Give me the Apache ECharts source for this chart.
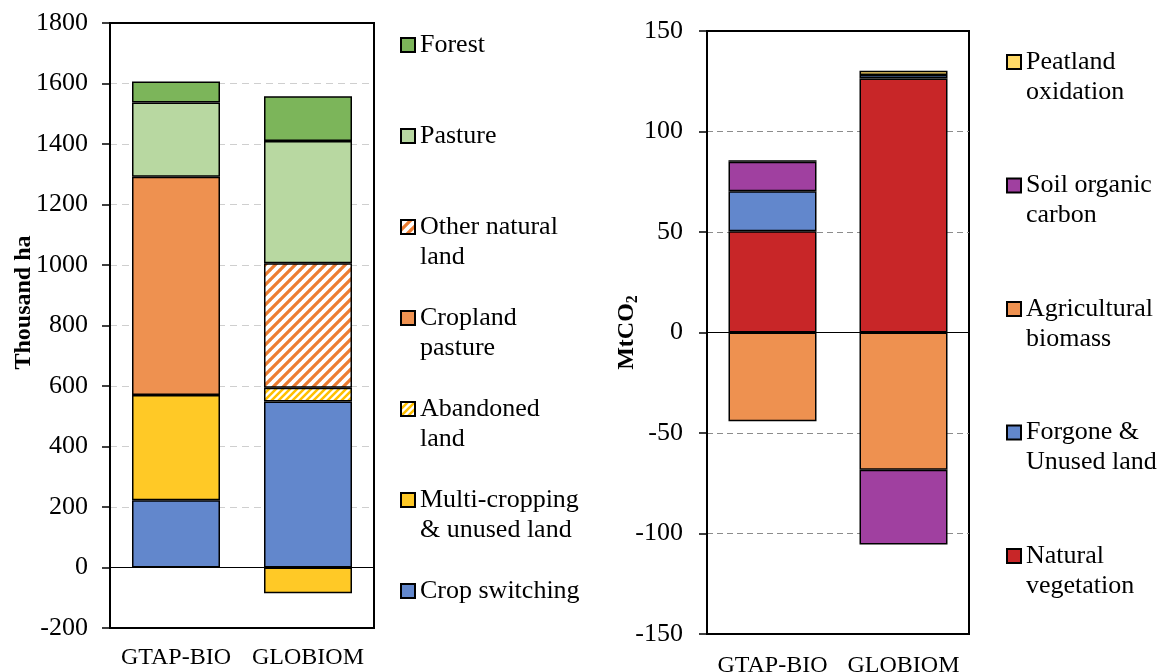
<!DOCTYPE html>
<html>
<head>
<meta charset="utf-8">
<script src="https://cdn.jsdelivr.net/npm/echarts@6/dist/echarts.min.js"></script>
<style>
  html, body { margin: 0; padding: 0; background: #fff; }
  #chart { width: 1160px; height: 672px; }
</style>
</head>
<body>
<div id="chart"></div>
<script>
// Models compared
const models = ['GTAP-BIO', 'GLOBIOM'];

// Land use change by source (thousand ha)
const cropSwitching    = [222, 549];
const multiCropping    = [348, -85];
const abandonedLand    = ['-', 45];
const croplandPasture  = [722, '-'];
const otherNaturalLand = ['-', 412];
const pasture          = [245, 404];
const forest           = [70, 148];

// Land use change emissions by source (MtCO2)
const naturalVegetation   = [50.4, 126.4];
const forgoneUnusedLand   = [19.9, 1.7];
const agriculturalBiomass = [-44.1, -68.3];
const soilOrganicCarbon   = [14.6, -37.2];
const peatlandOxidation   = [0.8, 2.1];

// Axis ranges
const landAxis = { min: -200, max: 1800, interval: 200 };
const co2Axis  = { min: -150, max: 150, interval: 50 };

// Legend labels (line breaks as shown)
const landLegend = [
  ['Forest', ['Forest']],
  ['Pasture', ['Pasture']],
  ['Other natural land', ['Other natural', 'land']],
  ['Cropland pasture', ['Cropland', 'pasture']],
  ['Abandoned land', ['Abandoned', 'land']],
  ['Multi-cropping & unused land', ['Multi-cropping', '& unused land']],
  ['Crop switching', ['Crop switching']]
];
const co2Legend = [
  ['Peatland oxidation', ['Peatland', 'oxidation']],
  ['Soil organic carbon', ['Soil organic', 'carbon']],
  ['Agricultural biomass', ['Agricultural', 'biomass']],
  ['Forgone & Unused land', ['Forgone &', 'Unused land']],
  ['Natural vegetation', ['Natural', 'vegetation']]
];

const FONT = 'Liberation Serif';
const C = {
  forest: '#7cb55a',
  pasture: '#b8d8a1',
  orange: '#ee9150',
  yellow: '#ffc926',
  blue: '#6287cc',
  red: '#c82628',
  purple: '#a040a0',
  peat: '#ffd966'
};

// Diagonal "/" hatch on white
function hatch(color, size, lw) {
  const c = document.createElement('canvas');
  c.width = size; c.height = size;
  const g = c.getContext('2d');
  g.fillStyle = '#fff';
  g.fillRect(0, 0, size, size);
  g.strokeStyle = color;
  g.lineWidth = lw;
  g.beginPath();
  g.moveTo(-1, size + 1); g.lineTo(size + 1, -1);
  g.moveTo(-1, 1); g.lineTo(1, -1);
  g.moveTo(size - 1, size + 1); g.lineTo(size + 1, size - 1);
  g.stroke();
  return { image: c, repeat: 'repeat' };
}

function bar(name, data, fill, idx, stack) {
  return {
    type: 'bar', name, data, stack,
    xAxisIndex: idx, yAxisIndex: idx,
    barWidth: 88,
    itemStyle: { color: fill, borderColor: '#000', borderWidth: 1.5 },
    emphasis: { disabled: true },
    animation: false
  };
}

const zeroLine = {
  silent: true, symbol: 'none', label: { show: false },
  lineStyle: { color: '#000', type: 'solid', width: 1.2 },
  data: [{ yAxis: 0 }]
};

// Each entry is set as three lines (blank above, label below) so the key
// square lines up with the first line of the label.
function legend(items, left, top, gap) {
  const map = Object.fromEntries(items.map(([n, lines]) => [n, [' ', lines[0], lines[1] || ' '].join('\n')]));
  return {
    orient: 'vertical', left, top, padding: 0,
    itemWidth: 14, itemHeight: 14, itemGap: gap,
    icon: 'rect', selectedMode: false,
    data: items.map(d => d[0]),
    formatter: n => map[n],
    textStyle: { fontFamily: FONT, fontSize: 26, lineHeight: 30, color: '#000' }
  };
}

function yAxis(idx, range, labelMargin, name, nameGap, nameStyle, grid) {
  return {
    type: 'value', gridIndex: idx, ...range,
    name, nameLocation: 'middle', nameRotate: 90, nameGap,
    nameMoveOverlap: false,
    nameTextStyle: nameStyle,
    axisLine: { show: true, lineStyle: { color: '#000', width: 2 } },
    axisTick: { show: true, length: 8, lineStyle: { color: '#000', width: 1.5 } },
    axisLabel: { fontFamily: FONT, fontSize: 26, color: '#000', margin: labelMargin, formatter: v => String(v) },
    splitLine: {
      show: true, showMinLine: false, showMaxLine: false,
      lineStyle: { color: grid.color, type: grid.dash, width: 1 }
    }
  };
}

function xAxis(idx, margin) {
  return {
    type: 'category', gridIndex: idx, data: models,
    axisLine: { show: true, onZero: false, lineStyle: { color: '#000', width: 2 } },
    axisTick: { show: false },
    axisLabel: { fontFamily: FONT, fontSize: 24, color: '#000', margin, interval: 0 },
    splitLine: { show: false }
  };
}

const orangeHatch = hatch('#ed7d31', 10, 3.2);
const yellowHatch = hatch('#ffc000', 7, 2.5);

const landSeries = [
  bar('Crop switching', cropSwitching, C.blue, 0, 'land'),
  bar('Multi-cropping & unused land', multiCropping, C.yellow, 0, 'land'),
  bar('Abandoned land', abandonedLand, yellowHatch, 0, 'land'),
  bar('Cropland pasture', croplandPasture, C.orange, 0, 'land'),
  bar('Other natural land', otherNaturalLand, orangeHatch, 0, 'land'),
  bar('Pasture', pasture, C.pasture, 0, 'land'),
  bar('Forest', forest, C.forest, 0, 'land')
];
landSeries[landSeries.length - 1].markLine = zeroLine;

const co2Series = [
  bar('Natural vegetation', naturalVegetation, C.red, 1, 'co2'),
  bar('Forgone & Unused land', forgoneUnusedLand, C.blue, 1, 'co2'),
  bar('Agricultural biomass', agriculturalBiomass, C.orange, 1, 'co2'),
  bar('Soil organic carbon', soilOrganicCarbon, C.purple, 1, 'co2'),
  bar('Peatland oxidation', peatlandOxidation, C.peat, 1, 'co2')
];
co2Series[co2Series.length - 1].markLine = zeroLine;

const gridBase = { show: true, borderColor: '#000', borderWidth: 2, containLabel: false, outerBoundsMode: 'none' };

const chart = echarts.init(document.getElementById('chart'), null, { renderer: 'canvas' });
chart.setOption({
  backgroundColor: '#fff',
  animation: false,
  grid: [
    { ...gridBase, left: 110, top: 23, width: 264, height: 605 },
    { ...gridBase, left: 707, top: 31, width: 262, height: 603 }
  ],
  legend: [
    legend(landLegend, 400, 0, 1),
    legend(co2Legend, 1006, 17, 33.5)
  ],
  xAxis: [xAxis(0, 18), xAxis(1, 20)],
  yAxis: [
    yAxis(0, landAxis, 22, 'Thousand ha', 74,
      { fontFamily: FONT, fontSize: 24, fontWeight: 'bold', color: '#000', padding: [0, 0, 0, 46] },
      { color: '#cfcfcf', dash: [7, 5] }),
    yAxis(1, co2Axis, 24, '{a|MtCO}{b|2}', 66,
      {
        fontFamily: FONT, color: '#000',
        rich: {
          a: { fontFamily: FONT, fontSize: 24, fontWeight: 'bold', color: '#000', lineHeight: 28 },
          b: { fontFamily: FONT, fontSize: 16, fontWeight: 'bold', color: '#000', lineHeight: 28, padding: [12, 0, 0, 0] }
        }
      },
      { color: '#8c8c8c', dash: [6, 4] })
  ],
  series: [...landSeries, ...co2Series]
});
</script>
</body>
</html>
